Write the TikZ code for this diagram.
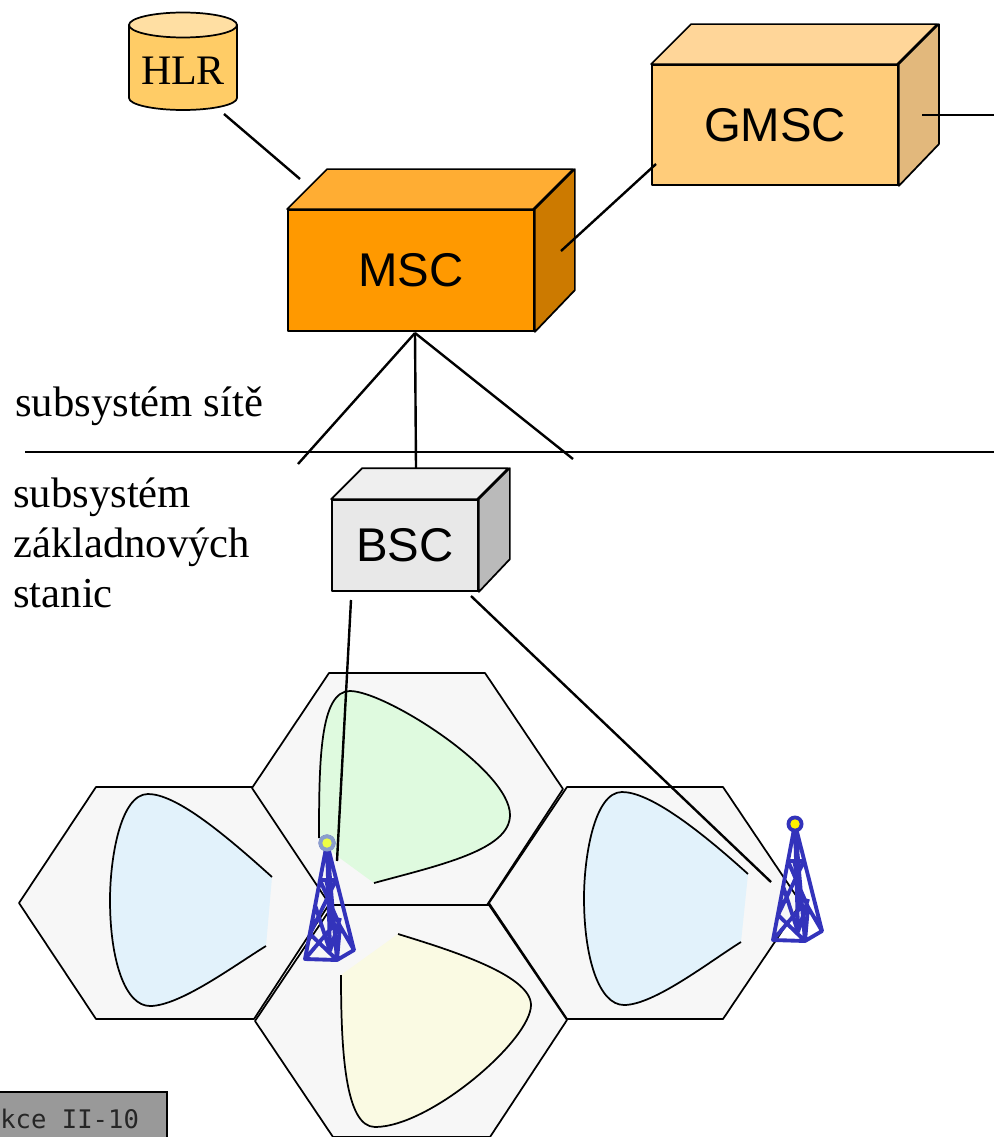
\documentclass[tikz,border=0pt]{standalone}
\usepackage{fontspec}
\setmainfont{Liberation Serif}
\setsansfont{Liberation Sans}
\setmonofont{DejaVu Sans Mono}
\usetikzlibrary{positioning}

\definecolor{msc_front}{HTML}{FF9900}
\definecolor{msc_top}{HTML}{FFAD33}
\definecolor{msc_side}{HTML}{CC7A00}
\definecolor{gmsc_front}{HTML}{FFCC7A}
\definecolor{gmsc_top}{HTML}{FFD699}
\definecolor{gmsc_side}{HTML}{E2B87C}
\definecolor{bsc_front}{HTML}{E8E8E8}
\definecolor{bsc_top}{HTML}{EFEFEF}
\definecolor{bsc_side}{HTML}{BABABA}
\definecolor{hlr_body}{HTML}{FFCC66}
\definecolor{hlr_top}{HTML}{FFDFA3}
\definecolor{cell_fill}{HTML}{F7F7F7}
\definecolor{lobe_green}{HTML}{DFFADF}
\definecolor{lobe_blue}{HTML}{E2F2FB}
\definecolor{lobe_yellow}{HTML}{FAFAE3}
\definecolor{mast_blue}{HTML}{3333BB}
\definecolor{ring_gray}{HTML}{8A9FCC}
\definecolor{lamp_pale}{HTML}{EEFF44}

\tikzset{
  link/.style={line width=1.8pt},
  outline/.style={draw=black, line width=1.3pt, line join=round},
  cell/.style={outline, fill=cell_fill},
  serif_label/.style={font=\fontsize{32}{37.5}\selectfont, align=left, inner sep=0pt},
  mast/.pic={
    \draw[mast_blue, line width=2.9pt, line join=round]
      (-22,116) -- (10,117) -- (27,107) -- (0,0) -- cycle
      (0,0) -- (10,117) (0,0) -- (3,108)
      (-7,37) -- (9,37) (-1,37) -- (1,45) -- (4,37)
      (-7,37) -- (13,83) -- (27,107) (9,37) -- (-17,91) -- (10,117) -- (13,83)
      (-22,116) -- (6,83) -- (3,37)
      (3,108) -- (-12,62) (3,108) -- (13,75);
    \fill[mast_blue] (0,0) circle (8.5);
    \fill[yellow] (0,0) circle (4.7);
  }
}

% front face is a node, top and side are drawn from its anchors
\newcommand{\netbox}[9]{
  \node[outline, fill=#6, minimum width=#3*0.75pt, minimum height=#4*0.75pt, inner sep=0pt,
        font=\fontsize{35.5}{40}\sffamily] (#1) at (#2) {\raisebox{-1.5pt}{#9}};
  \draw[outline, fill=#7] (#1.north west) -- ++(#5,-#5) -- ++(#3,0) -- ++(-#5,#5) -- cycle;
  \draw[outline, fill=#8] (#1.north east) -- ++(#5,-#5) -- ++(0,#4) -- (#1.south east) -- cycle;
}
\newcommand{\lobe}[3]{
  \fill[#1] #2 -- #3 -- cycle;
  \draw[outline] #2;
}

\begin{document}
\begin{tikzpicture}[x=0.75pt, y=-0.75pt]
   \clip (0,0) rectangle (994,1137);

   % cells
   \draw[cell] (19,903) -- (96,787) -- (252,787) -- (330,903) -- (254,1019) -- (96,1019) -- cycle;
   \draw[cell] (252,788) -- (329,673) -- (485,673) -- (563,789) -- (487,905) -- (330,905) -- cycle;
   \draw[cell] (489,903) -- (567,787) -- (723,787) -- (801,903) -- (723,1019) -- (567,1019) -- cycle;
   \draw[cell] (255,1021) -- (333,905) -- (489,905) -- (567,1020) -- (490,1137) -- (333,1137) -- cycle;

   \lobe{lobe_blue}{(272,877) .. controls (220,830) and (175,794) .. (148,794)
     .. controls (120,794) and (110,860) .. (110,900)
     .. controls (110,960) and (125,1006) .. (150,1006)
     .. controls (180,1006) and (235,965) .. (266,946)}{(266,946)}
   \lobe{lobe_green}{(374,883) .. controls (440,865) and (510,850) .. (510,815)
     .. controls (510,770) and (385,691) .. (350,691)
     .. controls (320,691) and (319,760) .. (319,838)}{(337,856)}
   \lobe{lobe_blue}{(748,874) .. controls (696,827) and (649,792) .. (622,792)
     .. controls (594,792) and (584,858) .. (584,898)
     .. controls (584,958) and (599,1005) .. (624,1005)
     .. controls (654,1005) and (709,962) .. (741,942)}{(741,942)}
   \lobe{lobe_yellow}{(398,934) .. controls (450,950) and (531,975) .. (531,1005)
     .. controls (531,1040) and (430,1127) .. (375,1127)
     .. controls (345,1127) and (341,1050) .. (341,975)}{(341,975)}

   % boxes
   \netbox{msc}{411,270.5}{246}{121}{40}{msc_front}{msc_top}{msc_side}{MSC}
   \netbox{gmsc}{775,125}{246}{120}{40}{gmsc_front}{gmsc_top}{gmsc_side}{GMSC}
   \netbox{bsc}{405,545.5}{146}{91}{31}{bsc_front}{bsc_top}{bsc_side}{BSC}

   \draw[outline, fill=hlr_body] (129,25) -- (129,98) arc[start angle=180, end angle=0, x radius=54, y radius=12]
     -- (237,25) -- cycle;
   \draw[outline, fill=hlr_top] (183,25) ellipse [x radius=54, y radius=12.5];
   \node[font=\fontsize{31.5}{36}\selectfont, inner sep=0pt] (hlr) at (183,71) {HLR};

   % free ends of the links
   \coordinate (hlr_end) at (224,114);
   \coordinate (msc_in) at (300,179);
   \coordinate (msc_out) at (561,251);
   \coordinate (gmsc_in) at (656,164);
   \coordinate (gmsc_out) at (922,115);
   \coordinate (right_end) at (994,115);
   \coordinate (msc_fork) at (415,333);
   \coordinate (fork_left) at (298,464);
   \coordinate (fork_mid) at (416,468);
   \coordinate (fork_right) at (573,459);
   \coordinate (border_left) at (25,452);
   \coordinate (border_right) at (994,452);
   \coordinate (bsc_left) at (351,600);
   \coordinate (bsc_right) at (471,596);
   \coordinate (mast_left_top) at (337,861);
   \coordinate (mast_right_top) at (771,882);

   \draw[link] (hlr_end) -- (msc_in);
   \draw[link] (msc_out) -- (gmsc_in);
   \draw[link] (gmsc_out) -- (right_end);
   \draw[link] (msc_fork) -- (fork_left);
   \draw[link] (msc_fork) -- (fork_mid);
   \draw[link] (msc_fork) -- (fork_right);
   \draw[link] (border_left) -- (border_right);
   \draw[link] (bsc_left) -- (mast_left_top);
   \draw[link] (bsc_right) -- (mast_right_top);

   \pic at (327,843) {mast};
   \pic at (795,824) {mast};
   \fill[ring_gray] (327,843) circle (8.5);
   \fill[lamp_pale] (327,843) circle (4.7);

   \node[serif_label, anchor=base west] (site_label) at (15,416) {subsystém sítě};
   \node[serif_label, anchor=north west] (base_label) at (13,478) {subsystém\\základnových\\stanic};

   \draw[line width=2pt, fill=black!40] (-5,1092) -- (167,1092) -- (167,1145) -- (-5,1145) -- cycle;
   \node[anchor=base west, inner sep=0pt, font=\fontsize{19.2}{23}\ttfamily, text=black!85] (page_label) at (0,1128) {kce II-10};
\end{tikzpicture}
\end{document}
